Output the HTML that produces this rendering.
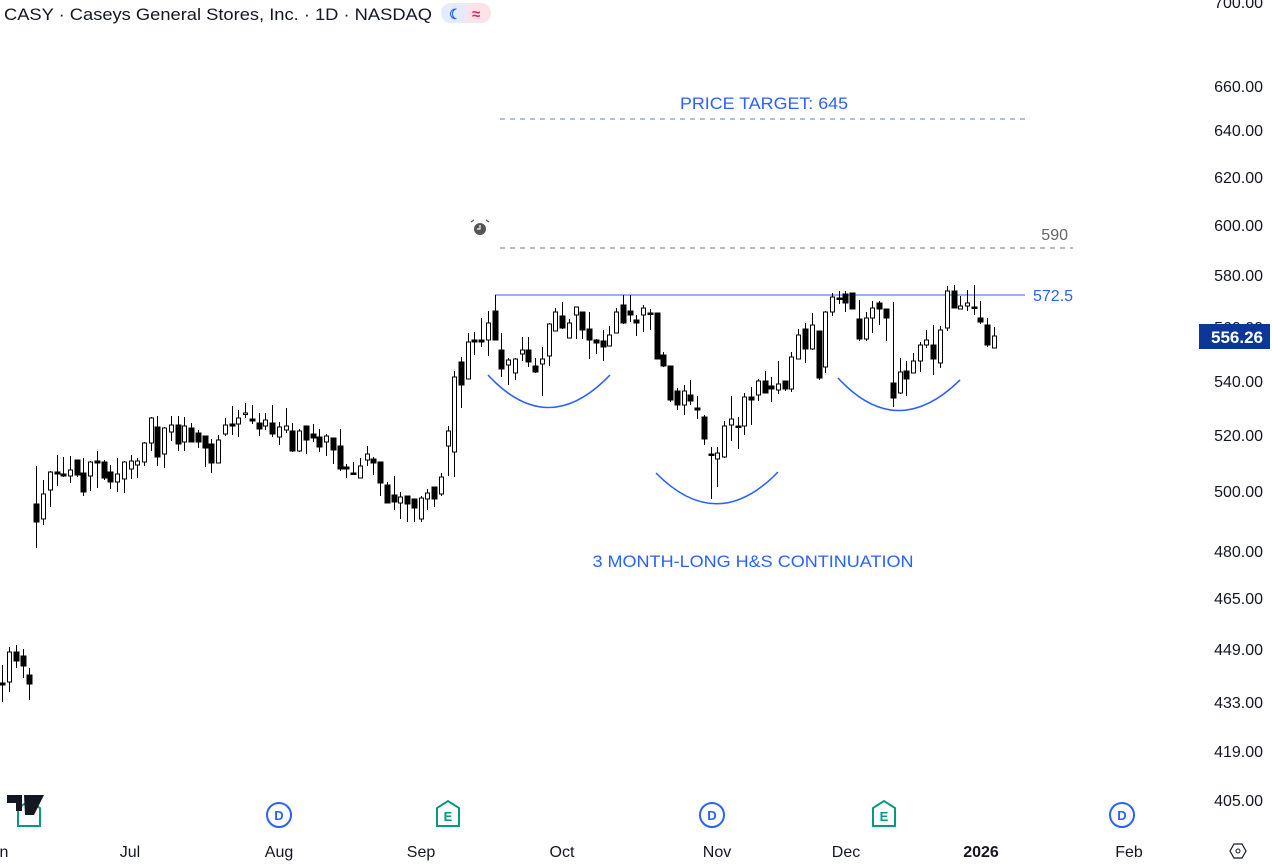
<!DOCTYPE html>
<html><head><meta charset="utf-8"><style>
html,body{margin:0;padding:0;background:#fff;}
svg{display:block;font-family:"Liberation Sans",sans-serif;}
</style></head><body>
<svg id="c" width="1272" height="867" xmlns="http://www.w3.org/2000/svg">
<rect width="1272" height="867" fill="#fff"/>
<text x="4" y="20" font-size="17" fill="#131722" textLength="428" lengthAdjust="spacingAndGlyphs">CASY · Caseys General Stores, Inc. · 1D · NASDAQ</text>
<rect x="441" y="3" width="50" height="20" rx="10" fill="#e3ebfd"/>
<rect x="466" y="3" width="25" height="20" rx="10" fill="#fbe3e8"/>
<rect x="466" y="3" width="8" height="20" fill="#fbe3e8"/>
<text x="449" y="19" font-size="14" fill="#2962ff" font-weight="bold">☾</text>
<text x="472" y="19" font-size="15" fill="#e91e63" font-weight="bold">≈</text>
<g font-size="16" fill="#131722" text-anchor="end">
<text x="1263" y="8">700.00</text>
<text x="1263" y="92">660.00</text>
<text x="1263" y="136">640.00</text>
<text x="1263" y="183">620.00</text>
<text x="1263" y="231">600.00</text>
<text x="1263" y="281">580.00</text>
<text x="1263" y="333">560.00</text>
<text x="1263" y="387">540.00</text>
<text x="1263" y="441">520.00</text>
<text x="1263" y="497">500.00</text>
<text x="1263" y="557">480.00</text>
<text x="1263" y="604">465.00</text>
<text x="1263" y="655">449.00</text>
<text x="1263" y="708">433.00</text>
<text x="1263" y="757">419.00</text>
<text x="1263" y="806">405.00</text>
</g>
<rect x="1199" y="324" width="71" height="25" fill="#0d3796"/>
<text x="1263" y="343" font-size="17" fill="#fff" text-anchor="end" font-weight="bold">556.26</text>
<g font-size="16" fill="#131722" text-anchor="middle">
<text x="4" y="857">n</text>
<text x="130" y="857">Jul</text>
<text x="279" y="857">Aug</text>
<text x="421" y="857">Sep</text>
<text x="562" y="857">Oct</text>
<text x="717" y="857">Nov</text>
<text x="846" y="857">Dec</text>
<text x="981" y="857" font-weight="bold">2026</text>
<text x="1129" y="857">Feb</text>
</g>
<g fill="none" stroke="#2962ff" stroke-width="2">
<circle cx="279" cy="815" r="12"/><circle cx="712" cy="815" r="12"/><circle cx="1122" cy="815" r="12"/>
</g>
<g font-size="13" font-weight="bold" fill="#2962ff" text-anchor="middle">
<text x="279" y="820">D</text><text x="712" y="820">D</text><text x="1122" y="820">D</text>
</g>
<g fill="none" stroke="#089981" stroke-width="2">
<path d="M437 826 V808 L448 801 L459 808 V826 Z"/><path d="M873 826 V808 L884 801 L895 808 V826 Z"/><path d="M18 826 V808 L29 801 L40 808 V826 Z"/>
</g>
<g font-size="13" font-weight="bold" fill="#089981" text-anchor="middle">
<text x="448" y="821">E</text><text x="884" y="821">E</text>
</g>
<path d="M7 795 H22 V811 H16 V803 H7 Z M24 795 H44 L34 815 H25 Z" fill="#131722"/>
<circle cx="28" cy="798" r="3" fill="#131722"/>
<path d="M1230 851 L1234 844 H1242 L1246 851 L1242 858 H1234 Z" fill="none" stroke="#131722" stroke-width="1.2"/>
<circle cx="1238" cy="851" r="2" fill="none" stroke="#131722"/>
<line x1="500" y1="119" x2="1025" y2="119" stroke="#5b7fe0" stroke-dasharray="5,5"/>
<text x="764" y="109" font-size="17" fill="#2962ff" text-anchor="middle" textLength="168" lengthAdjust="spacingAndGlyphs">PRICE TARGET: 645</text>
<line x1="500" y1="248" x2="1073" y2="248" stroke="#777" stroke-dasharray="5,5"/>
<text x="1068" y="240" font-size="16" fill="#666" text-anchor="end">590</text>
<line x1="495" y1="295" x2="1025" y2="295" stroke="#2962ff" stroke-width="1"/>
<text x="1033" y="301" font-size="16" fill="#2962ff">572.5</text>
<text x="753" y="567" font-size="17" fill="#2962ff" text-anchor="middle" textLength="321" lengthAdjust="spacingAndGlyphs">3 MONTH-LONG H&amp;S CONTINUATION</text>
<g fill="none" stroke="#2962ff" stroke-width="1.6">
<path d="M488 375 Q548 440 610 375"/>
<path d="M656 473 Q717 535 778 472"/>
<path d="M838 378 Q897 442 960 380"/>
</g>
<circle cx="480" cy="229" r="6" fill="#555"/>
<path d="M480 225 V229 H477" stroke="#fff" stroke-width="1.2" fill="none"/>
<path d="M471 222 L474 220 M489 222 L486 220" stroke="#555" stroke-width="1.2"/>
<g id="k" stroke="#000" stroke-width="1"></g>
</svg>
<script>
var d=[
[2,'b',683,685,665,702],[9,'w',652,682,647,692],[16,'b',652,661,645,668],[23,'b',656,666,649,678],[29,'b',675,684,668,700],
[36,'b',504,522,466,548],[43,'w',494,519,480,525],[50,'w',472,490,471,507],[57,'b',472,474,455,486],[63,'b',474,476,457,477],
[70,'w',470,476,456,483],[77,'b',460,475,460,477],[83,'b',473,492,458,496],[90,'w',462,476,461,491],[97,'b',461,463,451,488],
[104,'b',462,478,460,480],[110,'b',472,482,465,489],[117,'w',474,482,458,492],[124,'w',462,479,461,493],[131,'w',461,469,455,479],
[137,'w',461,465,458,478],[144,'w',443,462,442,466],[151,'w',418,443,417,451],[157,'b',427,457,416,466],[164,'w',428,454,427,468],
[171,'w',425,432,416,441],[178,'b',425,444,416,451],[184,'w',426,442,417,451],[191,'b',428,442,423,442],[198,'b',433,442,430,448],
[205,'b',436,448,436,467],[211,'b',444,463,439,473],[218,'w',440,463,435,463],[225,'w',425,434,418,436],[232,'b',424,426,406,435],
[238,'w',418,424,410,437],[245,'w',413,414,403,418],[252,'b',419,421,405,424],[259,'b',423,429,413,436],[265,'w',420,426,413,430],
[272,'b',423,434,405,437],[279,'w',427,437,422,445],[286,'w',426,430,408,433],[292,'b',431,451,423,452],[299,'w',431,451,429,452],
[306,'b',426,440,426,454],[313,'b',434,438,424,442],[319,'b',437,447,429,452],[326,'w',436,442,434,456],[333,'b',438,450,438,464],
[340,'b',446,469,429,471],[346,'b',467,469,464,478],[353,'b',473,474,462,474],[360,'w',466,478,458,478],[367,'w',454,460,446,466],
[373,'b',459,463,457,475],[380,'b',462,483,462,496],[387,'b',485,503,482,503],[394,'b',495,502,476,510],[400,'w',497,503,492,519],
[407,'b',496,504,496,522],[414,'b',499,508,499,522],[421,'w',498,519,496,522],[427,'w',493,499,489,510],[434,'b',487,499,487,507],
[441,'w',477,494,473,496],[448,'w',431,446,426,476],[454,'w',377,452,371,477],[461,'b',362,385,357,408],[468,'w',342,379,333,379],
[474,'b',340,342,332,355],[481,'b',340,342,318,347],[488,'w',323,340,311,356],[495,'b',311,340,295,340],[501,'b',350,369,333,377],
[508,'w',360,365,358,385],[515,'w',359,373,358,380],[522,'w',350,354,337,361],[528,'b',350,362,337,367],[535,'b',366,372,358,373],
[542,'w',359,364,347,396],[549,'w',324,356,323,366],[555,'w',312,331,308,331],[562,'b',316,328,302,329],[569,'w',323,338,319,338],
[576,'w',307,315,307,339],[582,'b',312,330,312,339],[589,'b',329,340,312,359],[596,'b',340,343,339,354],[603,'b',341,347,330,361],
[609,'w',335,346,326,346],[616,'w',312,333,308,333],[623,'b',305,323,295,324],[630,'b',311,315,295,322],[636,'b',320,323,315,336],
[643,'w',308,315,305,332],[650,'b',313,314,309,330],[657,'b',313,359,313,359],[663,'b',355,366,352,367],[670,'b',366,400,366,402],
[677,'b',391,405,388,410],[684,'w',391,405,385,415],[690,'b',395,401,380,405],[697,'b',408,410,396,419],[704,'b',417,439,415,445],
[711,'b',454,455,447,499],[717,'w',453,459,447,487],[724,'w',426,457,421,458],[731,'w',419,425,396,441],[738,'b',426,427,417,449],
[744,'w',397,426,393,435],[751,'b',397,400,387,425],[758,'w',381,395,379,401],[765,'b',381,393,371,393],[771,'b',386,389,377,402],
[778,'w',384,390,361,394],[785,'b',381,389,381,391],[791,'w',357,389,352,392],[798,'w',335,359,329,359],[805,'b',329,349,323,363],
[812,'w',325,349,313,350],[819,'b',331,378,331,380],[825,'w',312,367,311,373],[832,'w',297,312,293,316],[839,'b',298,299,291,304],
[845,'b',294,303,291,312],[852,'b',293,309,293,309],[859,'b',319,339,300,341],[866,'w',318,339,312,341],[872,'w',308,318,301,333],
[879,'b',303,309,301,325],[886,'b',309,318,309,341],[893,'b',383,398,302,407],[900,'w',372,393,358,394],[906,'b',371,379,361,396],
[913,'w',361,373,353,373],[920,'w',345,361,342,372],[926,'w',340,345,330,348],[933,'b',345,359,325,375],[940,'w',330,363,326,368],
[947,'w',291,328,286,331],[954,'b',291,308,285,308],[960,'w',306,309,296,309],[967,'w',303,306,290,311],[974,'b',307,308,285,315],
[980,'b',318,322,301,324],[987,'b',325,345,318,347],[994,'w',336,348,327,348]];
var g=document.getElementById('k'),h='';
d.forEach(function(c){var x=c[0]+0.5;
h+='<line x1="'+x+'" x2="'+x+'" y1="'+c[4]+'" y2="'+c[5]+'"/>';
var t=c[2],b=Math.max(c[3],c[2]+1.5);
if(c[1]=='b')h+='<rect x="'+(x-2.5)+'" y="'+t+'" width="5" height="'+(b-t)+'" fill="#000"/>';
else h+='<rect x="'+(x-2)+'" y="'+t+'" width="4" height="'+(b-t)+'" fill="#fff"/>';});
g.innerHTML=h;
</script>
</body></html>
